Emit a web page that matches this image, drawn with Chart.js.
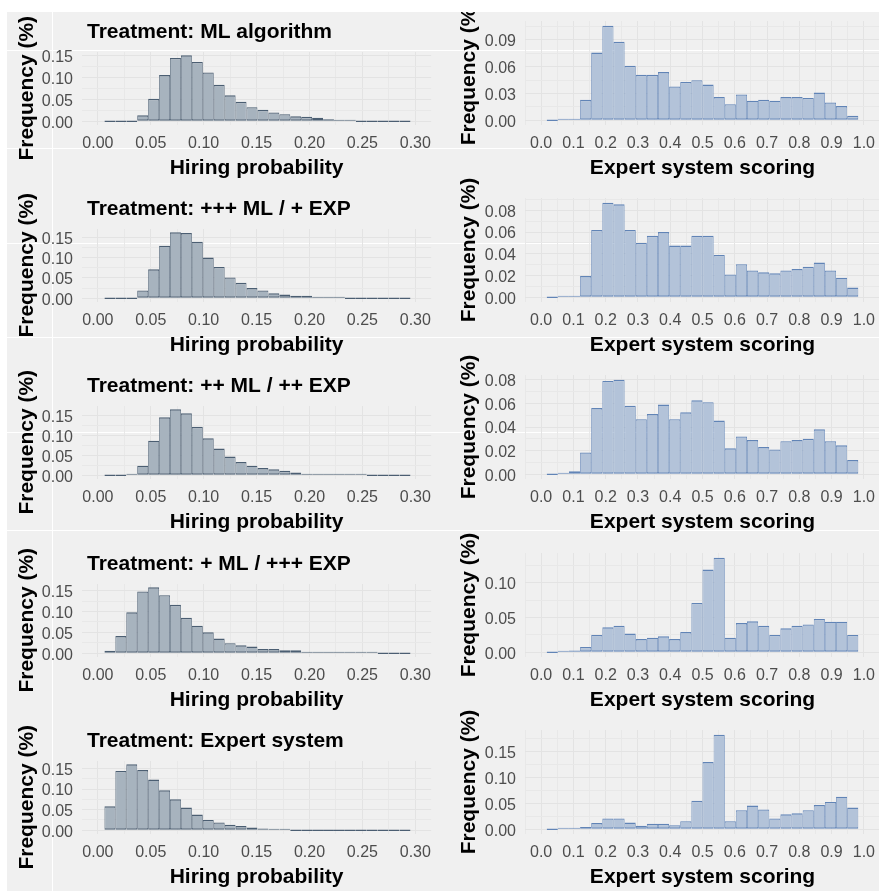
<!DOCTYPE html>
<html>
<head>
<meta charset="utf-8">
<title>Hiring probability and expert system scoring by treatment</title>
<script src="https://cdn.jsdelivr.net/npm/chart.js@4.4.1/dist/chart.umd.min.js"></script>
<style>
  html, body { margin: 0; padding: 0; background: #ffffff; }
  #figure { position: relative; width: 879px; height: 891px; overflow: hidden; background: #f0f0f0; }
  .panel { position: absolute; }
  .mask { position: absolute; background: #ffffff; z-index: 10; }
  .rule { position: absolute; background: #ffffff; }
</style>
</head>
<body>
<div id="figure">
  <div class="rule" style="left:52px;top:0;width:1px;height:891px"></div>
  <div class="rule" style="left:0;top:50px;width:879px;height:1px"></div>
  <div class="rule" style="left:0;top:148px;width:879px;height:1px"></div>
  <div class="rule" style="left:0;top:243px;width:879px;height:1px"></div>
  <div class="rule" style="left:0;top:337px;width:879px;height:1px"></div>
  <div class="rule" style="left:0;top:432px;width:879px;height:1px"></div>
  <div class="rule" style="left:0;top:530px;width:879px;height:1px"></div>
  <div class="mask" style="left:0;top:0;width:879px;height:12px"></div>
  <div class="mask" style="left:0;top:0;width:7px;height:891px"></div>
</div>
<script>
// bin centres (28 visible bins per histogram)
const hireBins = [0.01136, 0.02169, 0.03202, 0.04235, 0.05268, 0.06301, 0.07334, 0.08366, 0.09399, 0.10432,
  0.11465, 0.12498, 0.13531, 0.14564, 0.15597, 0.16630, 0.17663, 0.18696, 0.19729, 0.20762,
  0.21794, 0.22827, 0.23860, 0.24893, 0.25926, 0.26959, 0.27992, 0.29025];
const scoreBins = [0.03448, 0.06897, 0.10345, 0.13793, 0.17241, 0.20690, 0.24138, 0.27586, 0.31034, 0.34483,
  0.37931, 0.41379, 0.44828, 0.48276, 0.51724, 0.55172, 0.58621, 0.62069, 0.65517, 0.68966,
  0.72414, 0.75862, 0.79310, 0.82759, 0.86207, 0.89655, 0.93103, 0.96552];

// tick labels
const hireTicks = [0, 0.05, 0.10, 0.15, 0.20, 0.25, 0.30];
const scoreTicks = [0, 0.1, 0.2, 0.3, 0.4, 0.5, 0.6, 0.7, 0.8, 0.9, 1.0];
const hireYTicks = [0, 0.05, 0.10, 0.15];
const scoreYTicks1 = [0, 0.03, 0.06, 0.09];
const scoreYTicks2 = [0, 0.02, 0.04, 0.06, 0.08];
const scoreYTicks4 = [0, 0.05, 0.10];
const scoreYTicks5 = [0, 0.05, 0.10, 0.15];

const treatments = [
  "Treatment: ML algorithm",
  "Treatment: +++ ML / + EXP",
  "Treatment: ++ ML / ++ EXP",
  "Treatment: + ML / +++ EXP",
  "Treatment: Expert system"
];

// hiring probability frequencies, one list per treatment
const hireML = [0, 0, 0, 0.0136, 0.051, 0.105, 0.144, 0.150, 0.135, 0.111, 0.083, 0.059, 0.044, 0.032,
  0.026, 0.020, 0.016, 0.011, 0.010, 0.0076, 0.0045, 0.003, 0.003, 0, 0, 0, 0, 0];
const hireMLplus3 = [0, 0, 0, 0.019, 0.071, 0.129, 0.162, 0.160, 0.139, 0.100, 0.077, 0.051, 0.038, 0.025,
  0.019, 0.012, 0.009, 0.006, 0.006, 0.003, 0.0025, 0.002, 0, 0, 0, 0, 0, 0];
const hireMLplus2 = [0, 0, 0.003, 0.024, 0.087, 0.146, 0.166, 0.156, 0.122, 0.093, 0.067, 0.047, 0.033, 0.024,
  0.018, 0.015, 0.011, 0.007, 0.003, 0.002, 0.002, 0.002, 0.002, 0.0015, 0, 0, 0, 0];
const hireMLplus1 = [0.006, 0.041, 0.098, 0.148, 0.158, 0.139, 0.116, 0.085, 0.066, 0.050, 0.035, 0.024, 0.019, 0.016,
  0.010, 0.010, 0.007, 0.007, 0.003, 0.002, 0.002, 0.002, 0.002, 0.002, 0.002, 0, 0, 0];
const hireEXP = [0.058, 0.144, 0.160, 0.146, 0.123, 0.097, 0.075, 0.055, 0.038, 0.025, 0.019, 0.013, 0.010, 0.0065,
  0.004, 0.003, 0.002, 0, 0, 0, 0, 0, 0, 0, 0, 0, 0, 0];

// expert system scoring frequencies, one list per treatment
const scoreML = [0, 0.0003, 0.0015, 0.023, 0.076, 0.106, 0.088, 0.061, 0.051, 0.051, 0.054, 0.038, 0.043, 0.045,
  0.040, 0.026, 0.018, 0.029, 0.022, 0.023, 0.022, 0.026, 0.026, 0.025, 0.031, 0.020, 0.016, 0.005];
const scoreMLplus3 = [0, 0.0003, 0.0012, 0.0195, 0.062, 0.087, 0.0855, 0.062, 0.050, 0.0565, 0.060, 0.0476, 0.0476, 0.0565,
  0.0565, 0.039, 0.021, 0.0305, 0.0247, 0.023, 0.022, 0.0247, 0.026, 0.028, 0.032, 0.0247, 0.018, 0.009];
const scoreMLplus2 = [0, 0.0003, 0.0025, 0.0185, 0.056, 0.079, 0.080, 0.058, 0.0466, 0.051, 0.059, 0.0466, 0.0525, 0.0626,
  0.061, 0.0455, 0.022, 0.032, 0.029, 0.023, 0.021, 0.028, 0.029, 0.030, 0.038, 0.028, 0.0245, 0.012];
const scoreMLplus1 = [0, 0.0003, 0.0024, 0.0077, 0.025, 0.036, 0.038, 0.027, 0.019, 0.021, 0.023, 0.019, 0.029, 0.071,
  0.119, 0.136, 0.021, 0.042, 0.0445, 0.038, 0.025, 0.0345, 0.038, 0.040, 0.048, 0.044, 0.044, 0.025];
const scoreEXP = [0, 0.0003, 0.0005, 0.0046, 0.012, 0.021, 0.021, 0.013, 0.007, 0.0105, 0.0105, 0.008, 0.0157, 0.055,
  0.130, 0.183, 0.0157, 0.037, 0.046, 0.0385, 0.021, 0.029, 0.031, 0.037, 0.047, 0.053, 0.063, 0.042];

(function () {
  "use strict";

  const FONT = '"Liberation Sans", Arial, Helvetica, sans-serif';
  const MAJOR = "#e3e3e3";
  const MINOR = "#e8e8e8";
  Chart.defaults.font.family = FONT;

  // Draws the treatment label above the panel, left aligned with it
  const panelTitle = {
    id: "panelTitle",
    afterDraw(chart, args, opts) {
      if (!opts.text) return;
      const ctx = chart.ctx;
      const area = chart.chartArea;
      ctx.save();
      ctx.font = "bold 21px " + FONT;
      ctx.fillStyle = "#000000";
      ctx.textBaseline = "middle";
      ctx.fillText(opts.text, area.left + 5, area.top - 20);
      ctx.restore();
    }
  };

  // major breaks plus minor breaks halfway between them (ggplot style)
  function gridTicks(values, min, max) {
    const step = values[1] - values[0];
    const out = [];
    const lo = values[0] - step / 2;
    const hi = values[values.length - 1] + step / 2;
    if (lo >= min - 1e-9) out.push({ value: lo, minor: true });
    values.forEach(function (v, i) {
      out.push({ value: v, minor: false });
      if (i < values.length - 1) out.push({ value: (v + values[i + 1]) / 2, minor: true });
    });
    if (hi <= max + 1e-9) out.push({ value: hi, minor: true });
    return out;
  }

  function gridColor(c) {
    return c.tick && c.tick.minor ? MINOR : MAJOR;
  }

  function histogram(canvas, cfg) {
    const top = Math.max.apply(null, cfg.values);
    const yMin = -0.05 * top;
    const yMax = 1.05 * top;

    return new Chart(canvas, {
      type: "bar",
      data: {
        datasets: [{
          data: cfg.bins.map(function (x, i) { return { x: x, y: cfg.values[i] }; }),
          backgroundColor: cfg.fill,
          borderColor: cfg.line,
          borderWidth: { top: 1.4, bottom: 1.4, left: 0.75, right: 0.75 },
          borderSkipped: false,
          inflateAmount: 0,
          minBarLength: 1.4,
          barPercentage: 1,
          categoryPercentage: 1
        }]
      },
      options: {
        responsive: true,
        maintainAspectRatio: false,
        animation: false,
        layout: { padding: cfg.padding },
        plugins: {
          legend: { display: false },
          tooltip: { enabled: false },
          panelTitle: { text: cfg.title }
        },
        scales: {
          x: {
            type: "linear",
            min: cfg.xMin,
            max: cfg.xMax,
            offset: false,
            afterBuildTicks: function (s) { s.ticks = gridTicks(cfg.xTicks, cfg.xMin, cfg.xMax); },
            afterFit: function (s) { s.height = cfg.xHeight; },
            border: { display: false },
            grid: { offset: false, drawTicks: false, color: gridColor, lineWidth: 1 },
            ticks: {
              autoSkip: false,
              maxRotation: 0,
              padding: 9,
              color: "#4d4d4d",
              font: { size: 16 },
              callback: function (v, i, ticks) { return ticks[i].minor ? "" : v.toFixed(cfg.xDigits); }
            },
            title: {
              display: true,
              text: cfg.xTitle,
              color: "#000000",
              font: { size: 21, weight: "bold" },
              padding: { top: 0, bottom: 8 }
            }
          },
          y: {
            min: yMin,
            max: yMax,
            afterBuildTicks: function (s) { s.ticks = gridTicks(cfg.yTicks, yMin, yMax); },
            afterFit: function (s) { s.width = cfg.yWidth; },
            border: { display: false },
            grid: { drawTicks: false, color: gridColor, lineWidth: 1 },
            ticks: {
              autoSkip: false,
              padding: 9,
              labelOffset: 2,
              color: "#4d4d4d",
              font: { size: 16 },
              callback: function (v, i, ticks) { return ticks[i].minor ? "" : v.toFixed(2); }
            },
            title: {
              display: true,
              text: "Frequency (%)",
              color: "#000000",
              font: { size: 21, weight: "bold" },
              padding: { top: 8, bottom: 0 }
            }
          }
        }
      },
      plugins: [panelTitle]
    });
  }

  function addPanel(left, top, width, height) {
    const div = document.createElement("div");
    div.className = "panel";
    div.style.left = left + "px";
    div.style.top = top + "px";
    div.style.width = width + "px";
    div.style.height = height + "px";
    const canvas = document.createElement("canvas");
    div.appendChild(canvas);
    document.getElementById("figure").appendChild(div);
    return canvas;
  }

  const hireRows = [hireML, hireMLplus3, hireMLplus2, hireMLplus1, hireEXP];
  const scoreRows = [scoreML, scoreMLplus3, scoreMLplus2, scoreMLplus1, scoreEXP];
  const scoreYRows = [scoreYTicks1, scoreYTicks2, scoreYTicks2, scoreYTicks4, scoreYTicks5];

  for (let r = 0; r < 5; r++) {
    const rowTop = 12 + 177.2 * r;

    histogram(addPanel(7, rowTop, 433, 177), {
      title: treatments[r],
      bins: hireBins,
      values: hireRows[r],
      fill: "#a7b3be",
      line: "#4b5e72",
      xMin: -0.015,
      xMax: 0.315,
      xTicks: hireTicks,
      xDigits: 2,
      xTitle: "Hiring probability",
      yTicks: hireYTicks,
      padding: { top: 40, right: 2, left: 0, bottom: 0 },
      xHeight: 64.5,
      yWidth: 75
    });

    histogram(addPanel(449, rowTop - 30, 440, 207), {
      title: "",
      bins: scoreBins,
      values: scoreRows[r],
      fill: "#b3c3d9",
      line: "#6184b6",
      xMin: -0.05,
      xMax: 1.05,
      xTicks: scoreTicks,
      xDigits: 1,
      xTitle: "Expert system scoring",
      yTicks: scoreYRows[r],
      padding: { top: 39, right: 4, left: 0, bottom: 0 },
      xHeight: 64,
      yWidth: 76
    });
  }
})();
</script>
</body>
</html>
